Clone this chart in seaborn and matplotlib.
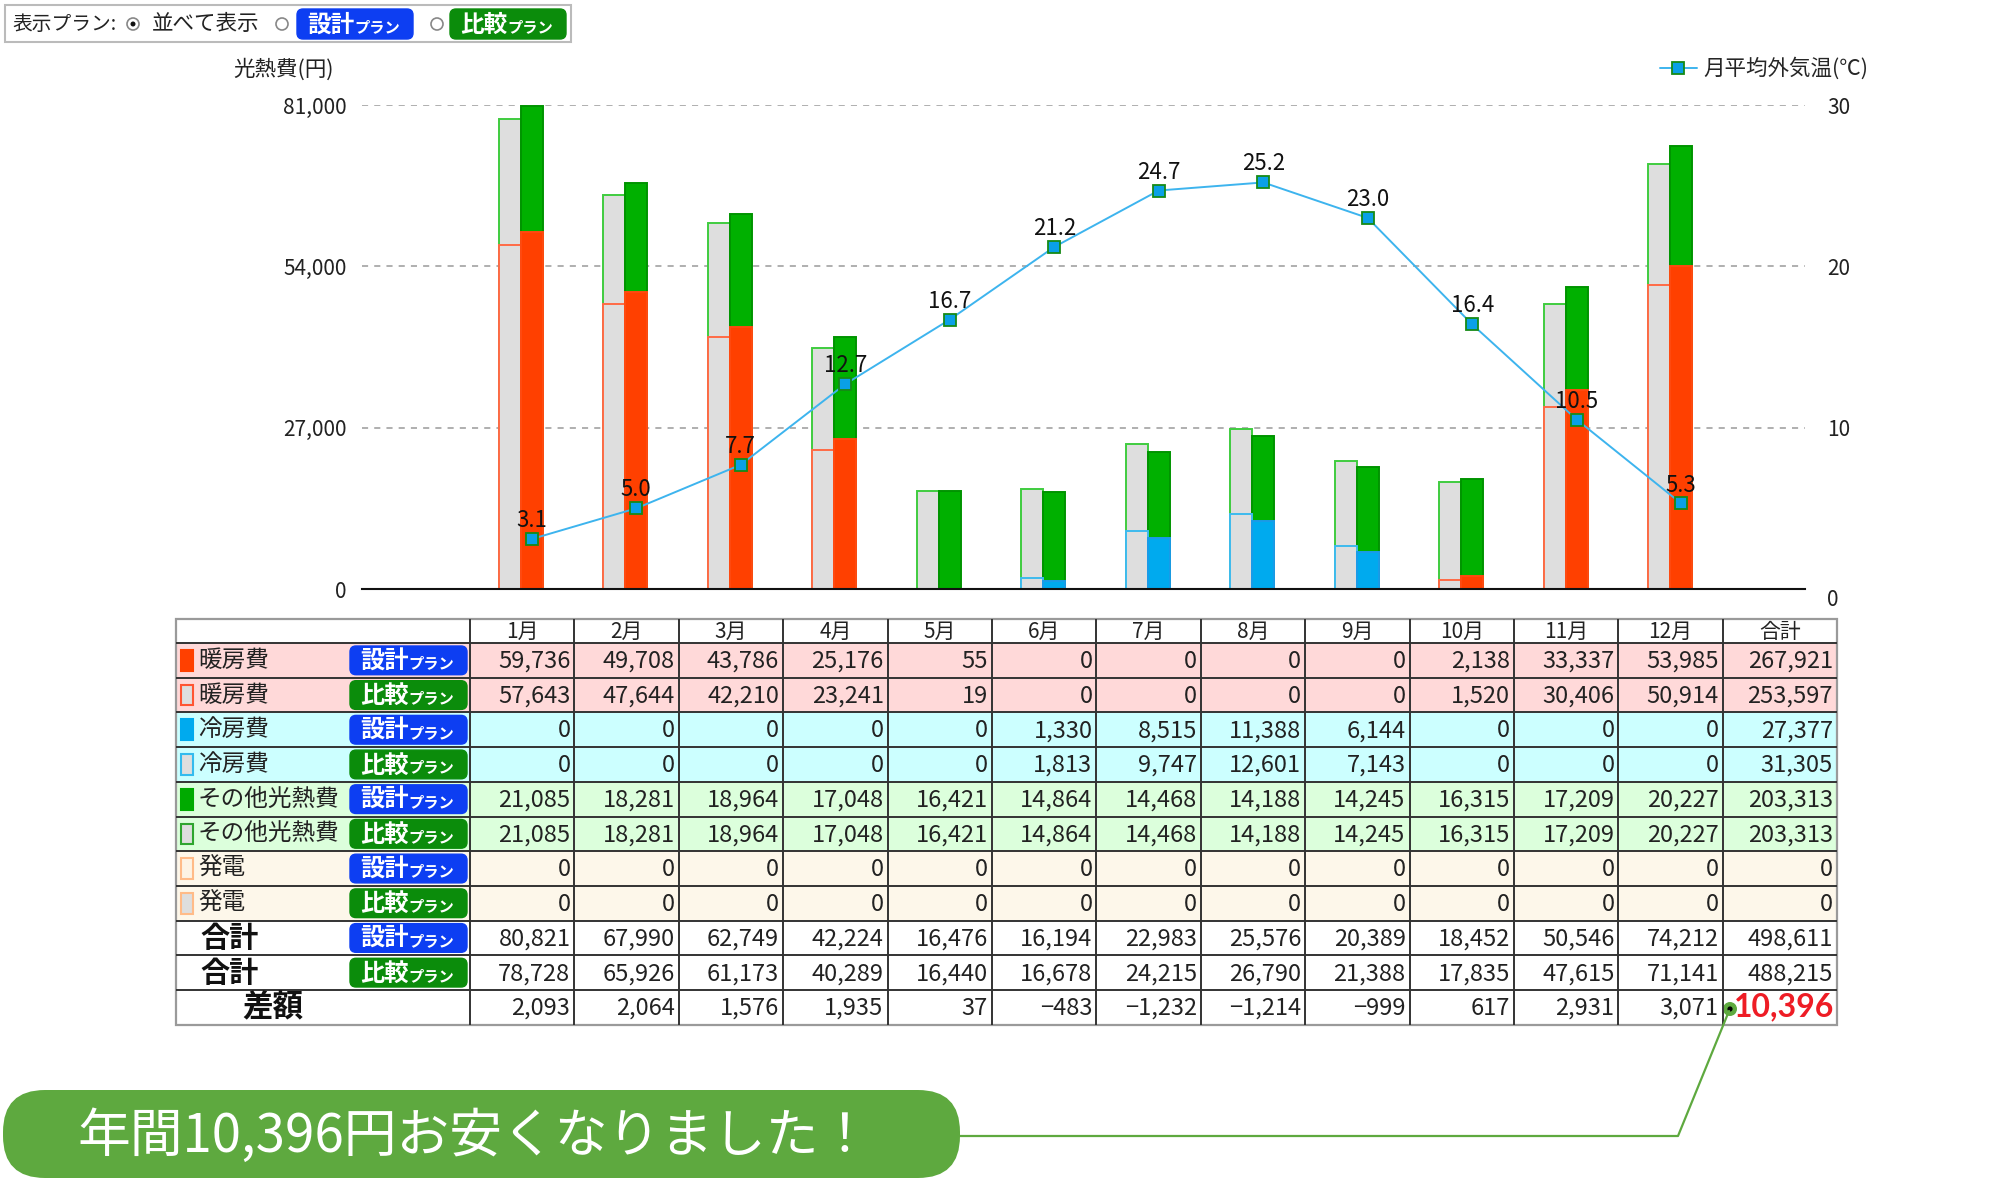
import numpy as np
import pandas as pd
import matplotlib
matplotlib.use('Agg')
import matplotlib.pyplot as plt
import seaborn as sns
from matplotlib.patches import Rectangle, FancyBboxPatch, Circle
from matplotlib.ticker import FuncFormatter

# ---------------- data ----------------
months = ['1月', '2月', '3月', '4月', '5月', '6月', '7月', '8月', '9月', '10月', '11月', '12月']
plans = ['比較', '設計']
heat_design = [59736, 49708, 43786, 25176, 55, 0, 0, 0, 0, 2138, 33337, 53985]
heat_compare = [57643, 47644, 42210, 23241, 19, 0, 0, 0, 0, 1520, 30406, 50914]
cool_design = [0, 0, 0, 0, 0, 1330, 8515, 11388, 6144, 0, 0, 0]
cool_compare = [0, 0, 0, 0, 0, 1813, 9747, 12601, 7143, 0, 0, 0]
other_design = [21085, 18281, 18964, 17048, 16421, 14864, 14468, 14188, 14245, 16315, 17209, 20227]
other_compare = [21085, 18281, 18964, 17048, 16421, 14864, 14468, 14188, 14245, 16315, 17209, 20227]
gen_design = [0, 0, 0, 0, 0, 0, 0, 0, 0, 0, 0, 0]
gen_compare = [0, 0, 0, 0, 0, 0, 0, 0, 0, 0, 0, 0]
total_design = [80821, 67990, 62749, 42224, 16476, 16194, 22983, 25576, 20389, 18452, 50546, 74212]
total_compare = [78728, 65926, 61173, 40289, 16440, 16678, 24215, 26790, 21388, 17835, 47615, 71141]
diff = [2093, 2064, 1576, 1935, 37, -483, -1232, -1214, -999, 617, 2931, 3071]
annual = [267921, 253597, 27377, 31305, 203313, 203313, 0, 0, 498611, 488215]
annual_diff = 10396
temps = [3.1, 5.0, 7.7, 12.7, 16.7, 21.2, 24.7, 25.2, 23.0, 16.4, 10.5, 5.3]
left_ticks = [0, 27000, 54000, 81000]
right_ticks = [0, 10, 20, 30]
row_labels = ['暖房費', '暖房費', '冷房費', '冷房費', 'その他光熱費', 'その他光熱費', '発電', '発電', '合計', '合計', '差額']
row_plans = ['設計', '比較', '設計', '比較', '設計', '比較', '設計', '比較', '設計', '比較', None]
banner_text = '年間10,396円お安くなりました！'

# ---------------- style ----------------
sns.set_theme(style='white')
plt.rcParams['font.family'] = ['Noto Sans CJK JP', 'DejaVu Sans']
plt.rcParams['axes.unicode_minus'] = False
TXT = '#222222'

fig = plt.figure(figsize=(20, 11.8), dpi=100)
ov = fig.add_axes([0, 0, 1, 1])
ov.set_xlim(0, 2000)
ov.set_ylim(1180, 0)
ov.axis('off')

ax = fig.add_axes([362 / 2000, 1 - 589 / 1180, (1805 - 362) / 2000, (589 - 105) / 1180])

df = pd.DataFrame({
    'month': months * 2,
    'plan': ['比較'] * 12 + ['設計'] * 12,
    'total': total_compare + total_design,
    'heat': heat_compare + heat_design,
    'cool': cool_compare + cool_design,
})

W = 0.42
common = dict(data=df, x='month', hue='plan', order=months, hue_order=plans,
              width=W, gap=0, saturation=1, errorbar=None, legend=False, ax=ax,
              linewidth=1.4)
sns.barplot(y='total', palette={'比較': '#dedede', '設計': '#00b000'}, **common)
sns.barplot(y='heat', palette={'比較': '#dedede', '設計': '#ff4000'}, **common)
sns.barplot(y='cool', palette={'比較': '#dedede', '設計': '#00aaee'}, **common)
edge_cols = ['#3fcc3f', '#009400', '#ff6a45', '#ff4a10', '#3dbbee', '#1a9be8']
for cont, ec in zip(ax.containers, edge_cols):
    for p in cont:
        p.set_edgecolor(ec)
        if p.get_height() == 0:
            p.set_visible(False)

ax.set_ylim(0, 81000)
ax.set_xlim(-1.52, 12.29)
ax.set_yticks(left_ticks)
ax.yaxis.set_major_formatter(FuncFormatter(lambda v, p: f'{int(v):,}'))
ax.set_xticks([])
ax.set_xlabel('')
ax.set_ylabel('')
ax.yaxis.grid(True, linestyle=(0, (4, 4)), color='#9a9a9a', lw=1.1)
ax.set_axisbelow(True)
for s in ['left', 'right', 'top']:
    ax.spines[s].set_visible(False)
ax.spines['bottom'].set_color('#111111')
ax.spines['bottom'].set_linewidth(1.5)
ax.tick_params(axis='y', length=0, pad=11, labelsize=15, labelcolor=TXT)
ax.set_facecolor('none')

ax2 = ax.twinx()
sns.lineplot(x=np.arange(12) + W / 4, y=temps, ax=ax2, color='#3db4ee', lw=1.4,
             marker='s', markersize=9, markerfacecolor='#0aa0e6',
             markeredgecolor='#168a16', markeredgewidth=1.3,
             label='月平均外気温(℃)')
ax2.set_ylim(0, 30)
ax2.set_yticks(right_ticks)
ax2.yaxis.set_major_formatter(FuncFormatter(lambda v, p: f'{int(v)}'))
ax2.tick_params(axis='y', length=0, pad=16, labelsize=15, labelcolor=TXT)
ax2.set_ylabel('')
ax2.grid(False)
for s in ax2.spines.values():
    s.set_visible(False)
ax2.get_yticklabels()[0].set_verticalalignment('top')
for i, t in enumerate(temps):
    ax2.annotate(f'{t:.1f}', (i + W / 4, t), xytext=(0, 5), textcoords='offset points',
                 ha='center', va='bottom', fontsize=16, color='#111111')
ax2.legend(loc='center right', bbox_to_anchor=(1868 / 2000, 1 - 69 / 1180),
           bbox_transform=fig.transFigure, frameon=False, fontsize=15.5,
           handlelength=1.7, handletextpad=0.3, borderpad=0, borderaxespad=0)
ax2.set_xlim(-1.52, 12.29)

fig.text(233 / 2000, 1 - 70 / 1180, '光熱費(円)', fontsize=15.5, color=TXT, va='center', ha='left')

# ---------------- helpers ----------------
def badge(x0, y0, w, h, plan, big=16, small=9.5):
    col = '#0d3ef2' if plan == '設計' else '#0b8c0b'
    ov.add_patch(FancyBboxPatch((x0, y0), w, h, boxstyle='round,pad=0,rounding_size=6',
                                fc=col, ec=col, lw=1))
    word = '設計' if plan == '設計' else '比較'
    ov.text(x0 + 10, y0 + h / 2 + 1, word, fontsize=big, color='white', weight='bold',
            ha='left', va='center')
    ov.text(x0 + 10 + big * 2.78, y0 + h / 2 + 3, 'プラン', fontsize=small, color='white',
            weight='bold', ha='left', va='center')

# ---------------- top-left selector ----------------
ov.add_patch(Rectangle((5, 5), 566, 37, fc='white', ec='#bbbbbb', lw=1.5))
ov.text(12, 24, '表示プラン:', fontsize=14.2, color=TXT, va='center', ha='left')
for cx, on in [(133, True), (282, False), (437, False)]:
    ov.add_patch(Circle((cx, 24), 6, fc='white', ec='#888888', lw=1.2))
    if on:
        ov.add_patch(Circle((cx, 24), 2.5, fc='#111111', ec='none'))
ov.text(152, 24, '並べて表示', fontsize=15.5, color=TXT, va='center', ha='left')
badge(297, 9, 116, 30, '設計', big=17, small=11)
badge(450, 9, 116, 30, '比較', big=17, small=11)

# ---------------- table ----------------
X0, XL, CW = 176, 470, 104.4
XT1 = XL + CW * 12
XT2 = 1837
Y0, HH, RH = 619, 24, 34.7
n_rows = len(row_labels)
Y1 = Y0 + HH + RH * n_rows
bgs = ['#ffd9d9', '#ffd9d9', '#ccffff', '#ccffff', '#dcffdc', '#dcffdc',
       '#fdf7ea', '#fdf7ea', 'white', 'white', 'white']
sq_fill = ['#ff4000', '#dedede', '#00aaee', '#dedede', '#00aa00', '#dedede',
           '#fdf3e4', '#dedede']
sq_edge = ['#ff4000', '#ff5533', '#00aaee', '#33bbee', '#00aa00', '#2fa52f',
           '#ffbb88', '#ffbb88']
row_vals = [heat_design, heat_compare, cool_design, cool_compare, other_design,
            other_compare, gen_design, gen_compare, total_design, total_compare, diff]

for r in range(n_rows):
    yt = Y0 + HH + RH * r
    ov.add_patch(Rectangle((X0, yt), XT2 - X0, RH, fc=bgs[r], ec='none'))
    yc = yt + RH / 2
    lab = row_labels[r]
    if r < 8:
        ov.add_patch(Rectangle((181, yt + 7), 12, RH - 14, fc=sq_fill[r], ec=sq_edge[r], lw=1.5))
        ov.text(198, yc, lab, fontsize=17, color=TXT, ha='left', va='center')
    elif r < 10:
        ov.text(200, yc, lab, fontsize=21, color='#111111', weight='bold', ha='left', va='center')
    else:
        ov.text(242, yc, lab, fontsize=22, color='#111111', weight='bold', ha='left', va='center')
    if row_plans[r] is not None:
        badge(350, yt + 3, 117, RH - 6, row_plans[r], big=17.5, small=11)
    for c in range(12):
        v = row_vals[r][c]
        s = f'{v:,}'.replace('-', '−')
        ov.text(XL + CW * (c + 1) - 4, yc + 1, s, fontsize=17, color=TXT, ha='right', va='center')
    if r < 10:
        ov.text(XT2 - 4, yc + 1, f'{annual[r]:,}', fontsize=17, color=TXT, ha='right', va='center')
    else:
        ov.text(XT2 - 3, yc - 1, f'{annual_diff:,}', fontsize=23, color='#ee1c25',
                weight='bold', ha='right', va='center', family=['Lato', 'DejaVu Sans'])

# header
for c, m in enumerate(months):
    ov.text(XL + CW * (c + 0.5), Y0 + HH / 2 + 1, m, fontsize=15, color=TXT, ha='center', va='center')
ov.text((XT1 + XT2) / 2, Y0 + HH / 2 + 1, '合計', fontsize=15, color=TXT, ha='center', va='center')

# grid lines
for r in range(n_rows):
    y = Y0 + HH + RH * r
    ov.plot([X0, XT2], [y, y], color='#333333', lw=1.4, solid_capstyle='butt')
for c in range(13):
    x = XL + CW * c
    ov.plot([x, x], [Y0, Y1], color='#333333', lw=1.4, solid_capstyle='butt')
ov.add_patch(Rectangle((X0, Y0), XT2 - X0, Y1 - Y0, fc='none', ec='#9a9a9a', lw=1.6))

# ---------------- banner & connector ----------------
GREEN = '#5ea93f'
ov.add_patch(FancyBboxPatch((3, 1090), 957, 88, boxstyle='round,pad=0,rounding_size=42',
                            fc=GREEN, ec='none'))
ov.text(475, 1136, banner_text, fontsize=38, color='white', ha='center', va='center')
ov.plot([958, 1678, 1729], [1136, 1136, 1011], color=GREEN, lw=1.6)
ov.add_patch(Circle((1730, 1009), 7, fc=GREEN, ec='none'))
ov.add_patch(Circle((1730, 1009), 2.6, fc='#000000', ec='none'))

fig.savefig('out.png', dpi=100, facecolor='white')
